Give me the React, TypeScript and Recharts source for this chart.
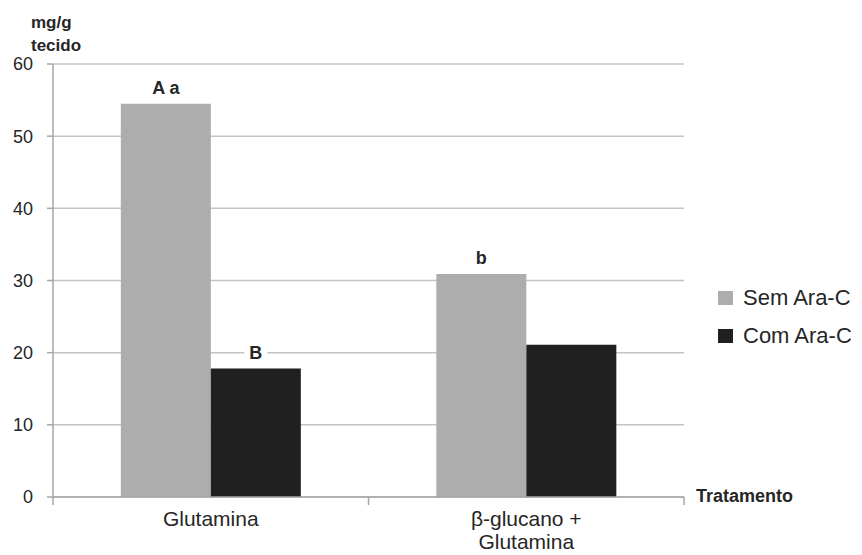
import React from 'react';
import { BarChart, Bar, XAxis, YAxis, CartesianGrid, LabelList } from 'recharts';

const categories = ['Glutamina', 'β-glucano +\nGlutamina'];
const semAraC = [54.5, 30.9];
const comAraC = [17.8, 21.1];
const semLetters = ['A a', 'b'];
const comLetters = ['B', ''];
const yTicks = [0, 10, 20, 30, 40, 50, 60];

const data = categories.map((name, i) => ({
  name,
  sem: semAraC[i],
  com: comAraC[i],
  semLetter: semLetters[i],
  comLetter: comLetters[i],
}));

const FONT = '"Liberation Sans", Arial, sans-serif';
const TEXT = '#262626';
const AXIS = '#a6a6a6';

const LetterLabel = (props: any) => {
  const { x, y, width, value } = props;
  if (!value) return null;
  const cx = x + width / 2;
  const w = value.length * 9 + 14;
  return (
    <g>
      <rect x={cx - w / 2} y={y - 26} width={w} height={20} fill="#fff" />
      <text x={cx} y={y - 10} textAnchor="middle" fontSize={18} fontWeight="bold" fill={TEXT} fontFamily={FONT}>
        {value}
      </text>
    </g>
  );
};

const CategoryTick = (props: any) => {
  const { x, y, payload, index, visibleTicksCount } = props;
  const half = payload.offset || 0;
  const lines = String(payload.value).split('\n');
  return (
    <g>
      {half > 0 && <line x1={x - half} x2={x - half} y1={y - 8} y2={y} stroke={AXIS} strokeWidth={1.5} />}
      {half > 0 && index === visibleTicksCount - 1 && (
        <line x1={x + half} x2={x + half} y1={y - 8} y2={y} stroke={AXIS} strokeWidth={1.5} />
      )}
      {lines.map((l, i) => (
        <text key={i} x={x} y={y + 21 + i * 23} textAnchor="middle" fontSize={21} fill={TEXT} fontFamily={FONT}>
          {l}
        </text>
      ))}
    </g>
  );
};

const series = [
  { name: 'Sem Ara-C', color: '#adadad' },
  { name: 'Com Ara-C', color: '#202020' },
];

export default function App() {
  return (
    <div style={{ position: 'absolute', left: 0, top: 0, width: 862, height: 555, background: '#fff', fontFamily: FONT }}>
      <BarChart
        width={862}
        height={555}
        data={data}
        margin={{ top: 64, right: 178, left: 0, bottom: 0 }}
        barCategoryGap="21.5%"
        barGap={0}
      >
        <CartesianGrid vertical={false} stroke="#c4c4c4" strokeWidth={1.5} />
        <XAxis
          dataKey="name"
          height={58}
          axisLine={{ stroke: AXIS, strokeWidth: 1.5 }}
          tickLine={false}
          tick={<CategoryTick />}
          interval={0}
        />
        <YAxis
          width={53}
          domain={[0, 60]}
          ticks={yTicks}
          axisLine={{ stroke: AXIS, strokeWidth: 1.5 }}
          tickLine={{ stroke: AXIS, strokeWidth: 1.5 }}
          tickSize={6}
          tickMargin={14}
          tick={{ fontSize: 18, fill: TEXT, fontFamily: FONT }}
        />
        <Bar dataKey="sem" name="Sem Ara-C" fill="#adadad" isAnimationActive={false}>
          <LabelList dataKey="semLetter" content={<LetterLabel />} />
        </Bar>
        <Bar dataKey="com" name="Com Ara-C" fill="#202020" isAnimationActive={false}>
          <LabelList dataKey="comLetter" content={<LetterLabel />} />
        </Bar>
      </BarChart>
      {/* legend */}
      <div style={{ position: 'absolute', left: 718, top: 279 }}>
        {series.map((s) => (
          <div key={s.name} style={{ display: 'flex', alignItems: 'center', height: 38 }}>
            <div style={{ width: 15, height: 14, background: s.color, marginRight: 10 }} />
            <span style={{ fontSize: 22, color: TEXT }}>{s.name}</span>
          </div>
        ))}
      </div>
      <div style={{ position: 'absolute', left: 31, top: 11, fontSize: 17, fontWeight: 'bold', lineHeight: '23px', color: TEXT }}>
        mg/g
        <br />
        tecido
      </div>
      <div style={{ position: 'absolute', left: 696, top: 486, fontSize: 18, fontWeight: 'bold', color: TEXT }}>
        Tratamento
      </div>
    </div>
  );
}
